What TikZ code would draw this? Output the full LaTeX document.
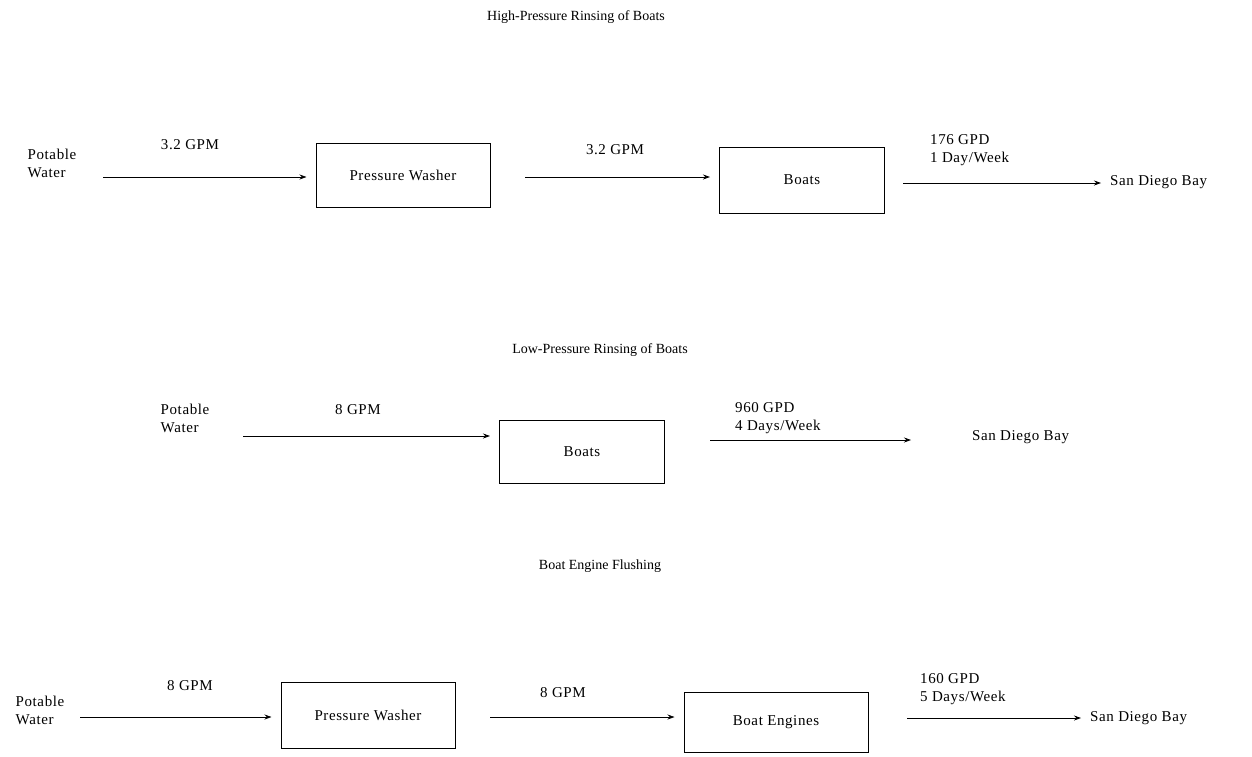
\documentclass[tikz,border=0pt]{standalone}
\usepackage{fontspec}
\setmainfont{Liberation Serif}
\usetikzlibrary{arrows.meta}
\begin{document}
\begin{tikzpicture}[x=1pt,y=-1pt,
  every node/.style={font=\fontsize{15}{18}\selectfont\addfontfeatures{LetterSpace=4}, inner sep=0pt},
  ttl/.style={font=\fontsize{14}{16}\selectfont},
  procbox/.style={draw, line width=1pt, minimum width=#1, inner sep=0pt},
  flow/.style={line width=0.8pt, shorten >=9pt, -{Stealth[length=7pt,width=5pt]}},
  lft/.style={anchor=west, align=left}]
\useasboundingbox (0,0) rectangle (1252,756);
% ---------- Row 1 ----------
\node[ttl] (t1) at (576,17) {High-Pressure Rinsing of Boats};
\node[align=left] (pw1) at (52,163) {Potable\\Water};
\coordinate (a1s) at (103,177);
\node[procbox=174pt, minimum height=64pt] (wash1) at (403,175) {Pressure Washer};
\node[procbox=165pt, minimum height=66pt] (boats1) at (802,180) {Boats};
\coordinate (a2s) at (525,177);
\coordinate (a3s) at (903,183);
\node[anchor=west] (bay1) at (1110,182) {San Diego Bay};
\draw[flow] (a1s) -- (a1s -| wash1.west);
\draw[flow] (a2s) -- (a2s -| boats1.west);
\draw[flow] (a3s) -- (bay1.west |- a3s);
\node (g1) at (190,145) {3.2 GPM};
\node (g2) at (615,150) {3.2 GPM};
\node[lft] (d1) at (930,150) {176 GPD\\1 Day/Week};
% ---------- Row 2 ----------
\node[ttl] (t2) at (600,350) {Low-Pressure Rinsing of Boats};
\node[align=left] (pw2) at (185,418) {Potable\\Water};
\coordinate (b1s) at (243,436);
\node[procbox=165pt, minimum height=63pt] (boats2) at (582,452) {Boats};
\coordinate (b2s) at (710,440);
\coordinate (b2e) at (920,440);
\node[anchor=west] (bay2) at (972,437) {San Diego Bay};
\draw[flow] (b1s) -- (b1s -| boats2.west);
\draw[flow] (b2s) -- (b2e);
\node (g3) at (358,410) {8 GPM};
\node[lft] (d2) at (735,418) {960 GPD\\4 Days/Week};
% ---------- Row 3 ----------
\node[ttl] (t3) at (600,566) {Boat Engine Flushing};
\node[align=left] (pw3) at (40,710) {Potable\\Water};
\coordinate (c1s) at (80,717);
\node[procbox=174pt, minimum height=66pt] (wash3) at (368,715) {Pressure Washer};
\coordinate (c2s) at (490,717);
\node[procbox=184pt, minimum height=60pt] (eng3) at (776,722) {Boat Engines};
\coordinate (c3s) at (907,718);
\node[anchor=west] (bay3) at (1090,718) {San Diego Bay};
\draw[flow] (c1s) -- (c1s -| wash3.west);
\draw[flow] (c2s) -- (c2s -| eng3.west);
\draw[flow] (c3s) -- (bay3.west |- c3s);
\node (g4) at (190,686) {8 GPM};
\node (g5) at (563,693) {8 GPM};
\node[lft] (d3) at (920,689) {160 GPD\\5 Days/Week};
\end{tikzpicture}
\end{document}
